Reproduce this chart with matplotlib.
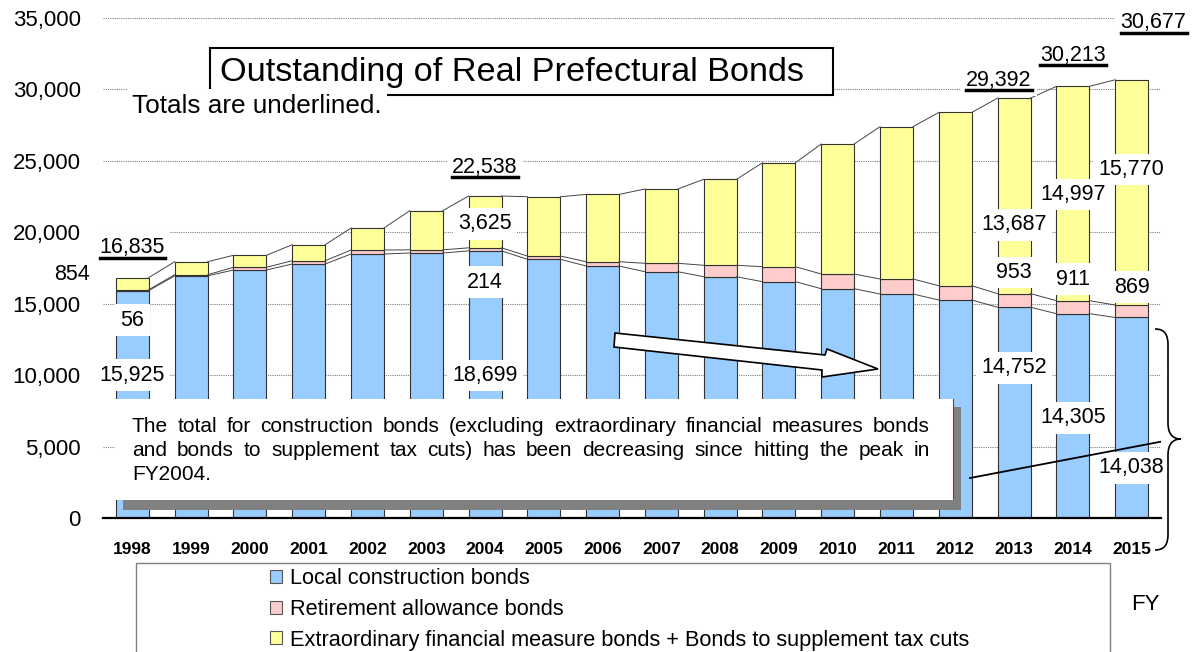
import matplotlib.pyplot as plt
from matplotlib.patches import Rectangle, Polygon, PathPatch, Patch
from matplotlib.path import Path
from matplotlib.lines import Line2D
import numpy as np

plt.rcParams['font.family'] = ['Liberation Sans', 'DejaVu Sans']

years = ["1998", "1999", "2000", "2001", "2002", "2003", "2004", "2005", "2006",
         "2007", "2008", "2009", "2010", "2011", "2012", "2013", "2014", "2015"]
local = [15925, 16950, 17360, 17780, 18480, 18550, 18699, 18110, 17640,
         17240, 16890, 16540, 16050, 15680, 15260, 14752, 14305, 14038]
retire = [56, 80, 190, 230, 280, 220, 214, 230, 300,
          590, 800, 1050, 1030, 1050, 1000, 953, 911, 869]
extra = [854, 910, 840, 1120, 1540, 2740, 3625, 4150, 4710,
         5200, 6020, 7280, 9100, 10660, 12130, 13687, 14997, 15770]
labelled = ["1998", "2004", "2013", "2014", "2015"]
series_names = ["Local construction bonds", "Retirement allowance bonds",
                "Extraordinary financial measure bonds + Bonds to supplement tax cuts"]
colors = ["#99CCFF", "#FFCCCC", "#FFFF99"]

W, H = 1195, 652
def fx(x):
    return x / W
def fy(y):
    return 1 - y / H

fig = plt.figure(figsize=(W / 100, H / 100), dpi=100)
ax = fig.add_axes([fx(103), fy(518), fx(1161) - fx(103), fy(18) - fy(518)])

x = np.arange(len(years))
local = np.array(local)
retire = np.array(retire)
extra = np.array(extra)
total = local + retire + extra
bw = 0.56

ax.bar(x, local, bw, color=colors[0], edgecolor="#333333", linewidth=0.8, zorder=2)
ax.bar(x, retire, bw, bottom=local, color=colors[1], edgecolor="#333333", linewidth=0.8, zorder=2)
ax.bar(x, extra, bw, bottom=local + retire, color=colors[2], edgecolor="#333333", linewidth=0.8, zorder=2)

# series lines between bars
for lev in [local, local + retire, total]:
    for i in range(len(x) - 1):
        ax.plot([x[i] + bw / 2, x[i + 1] - bw / 2], [lev[i], lev[i + 1]],
                color="#444444", lw=0.7, zorder=2.5)

ax.set_xlim(-0.5, len(x) - 0.5)
ax.set_ylim(0, 35000)
ax.set_yticks(np.arange(0, 35001, 5000))
ax.set_yticklabels([f"{v:,}" for v in range(0, 35001, 5000)], fontsize=16)
ax.set_xticks(x)
ax.set_xticklabels(years, fontsize=12.5, fontweight="bold")
ax.tick_params(axis="y", length=0, pad=16)
ax.tick_params(axis="x", length=0, pad=17)
ax.grid(axis="y", color="#808080", linestyle=(0, (1, 1)), linewidth=0.8, zorder=0.5)
ax.set_axisbelow(True)
for s in ["top", "right", "left"]:
    ax.spines[s].set_visible(False)
ax.spines["bottom"].set_linewidth(1.6)
ax.spines["bottom"].set_zorder(3)

# value labels: offsets in pixels (dx, dy up)
offsets = {
    "1998": [(0, 29), (0, -30), (-60, 9), (0, 30)],
    "2004": [(0, 9), (0, -33), (0, -2), (0, 29)],
    "2013": [(0, 45), (0, 28), (0, -29), (-15, 18)],
    "2014": [(0, -2), (0, 28), (0, -1), (0, 31)],
    "2015": [(0, -50), (0, 24), (0, 23), (22, 57)],
}
box = dict(boxstyle="square,pad=0.25", fc="white", ec="none")
total_texts = []
for yr in labelled:
    i = years.index(yr)
    mids = [local[i] / 2, local[i] + retire[i] / 2, local[i] + retire[i] + extra[i] / 2, total[i]]
    vals = [local[i], retire[i], extra[i], total[i]]
    for k in range(4):
        dx, dy = offsets[yr][k]
        t = ax.annotate(f"{vals[k]:,}", xy=(x[i], mids[k]), xytext=(dx * 0.72, dy * 0.72),
                        textcoords="offset points", ha="center", va="center",
                        fontsize=15.5, bbox=box, zorder=4)
        if k == 3:
            total_texts.append(t)

# title box
ax.add_patch(Rectangle((fx(210), fy(95)), fx(833) - fx(210), fy(48) - fy(95),
                       transform=fig.transFigure, fc="white", ec="black", lw=1.5,
                       clip_on=False, zorder=6))
fig.text(fx(220), fy(72), "Outstanding of Real Prefectural Bonds", fontsize=24.7,
         va="center", ha="left", zorder=7)
fig.text(fx(132), fy(106), "Totals are underlined.", fontsize=18.8, va="center", ha="left",
         bbox=dict(boxstyle="square,pad=0.2", fc="white", ec="none"), zorder=5)

# arrow
arrow_pts = [(615, 333), (825, 355), (827, 349), (878, 369), (822, 377), (822, 370), (614, 347)]
ax.add_patch(Polygon([(fx(a), fy(b)) for a, b in arrow_pts], closed=True,
                     transform=fig.transFigure, fc="white", ec="black", lw=1.2,
                     clip_on=False, zorder=6))

# comment box with shadow
ax.add_patch(Rectangle((fx(123), fy(510)), fx(961) - fx(123), fy(407) - fy(510),
                       transform=fig.transFigure, fc="#808080", ec="none",
                       clip_on=False, zorder=5))
ax.add_patch(Rectangle((fx(115), fy(500)), fx(953) - fx(115), fy(399) - fy(500),
                       transform=fig.transFigure, fc="white", ec="none",
                       clip_on=False, zorder=5.5))
ax.add_line(Line2D([fx(953), fx(953)], [fy(399), fy(498)], transform=fig.transFigure,
                   color="red", lw=0.8, zorder=5.6))

para = ["The total for construction bonds (excluding extraordinary financial measures bonds",
        "and bonds to supplement tax cuts) has been decreasing since hitting the peak in",
        "FY2004."]
renderer = fig.canvas.get_renderer()
x_left, x_right = 132, 930
for li, line in enumerate(para):
    ypix = 427 + li * 24
    words = line.split(" ")
    objs = [fig.text(0, fy(ypix), w, fontsize=15, va="center", ha="left", zorder=7) for w in words]
    widths = [o.get_window_extent(renderer).width for o in objs]
    if li < len(para) - 1:
        gap = (x_right - x_left - sum(widths)) / (len(words) - 1)
    else:
        gap = 5
    cur = x_left
    for o, w in zip(objs, widths):
        o.set_x(fx(cur))
        cur += w + gap

# pointer line and brace
ax.add_line(Line2D([fx(970), fx(1175)], [fy(478), fy(439)], transform=fig.transFigure,
                   color="black", lw=1.3, zorder=6))
brace = [(1155, 329), (1165, 329), (1168, 335), (1168, 345), (1168, 423),
         (1168, 433), (1172, 439), (1181, 439), (1172, 439), (1168, 445), (1168, 455),
         (1168, 534), (1168, 544), (1165, 550), (1155, 550)]
codes = [Path.MOVETO, Path.CURVE4, Path.CURVE4, Path.CURVE4, Path.LINETO,
         Path.CURVE4, Path.CURVE4, Path.CURVE4, Path.CURVE4, Path.CURVE4, Path.CURVE4,
         Path.LINETO, Path.CURVE4, Path.CURVE4, Path.CURVE4]
ax.add_patch(PathPatch(Path([(fx(a), fy(b)) for a, b in brace], codes),
                       transform=fig.transFigure, fc="none", ec="black", lw=1.2,
                       clip_on=False, zorder=6))

# legend
ax.add_patch(Rectangle((fx(136), fy(665)), fx(1110) - fx(136), fy(563) - fy(665),
                       transform=fig.transFigure, fc="white", ec="#808080", lw=1,
                       clip_on=False, zorder=1))
handles = [Patch(fc=c, ec="#555555", lw=0.8) for c in colors]
ax.legend(handles, series_names, loc="upper left", bbox_to_anchor=(fx(270), fy(568)),
          bbox_transform=fig.transFigure, frameon=False, fontsize=15.7,
          handlelength=0.55, handleheight=0.55, handletextpad=0.35,
          labelspacing=0.45, borderpad=0, borderaxespad=0)
fig.text(fx(1145), fy(605), "FY", fontsize=16, ha="center", va="center")

# underline the totals
fig.canvas.draw()
for t in total_texts:
    bb = t.get_window_extent(renderer)
    yb = bb.y0 + 0.5
    fig.add_artist(Line2D([bb.x0 / W, bb.x1 / W], [yb / H, yb / H], color="black",
                          lw=2.5, zorder=8))

fig.savefig("out.png", dpi=100)
